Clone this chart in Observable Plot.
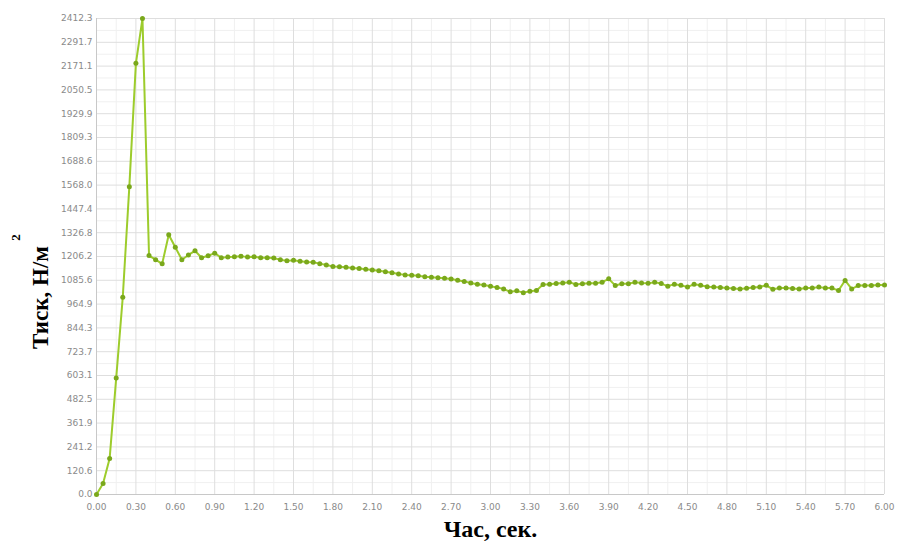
<!DOCTYPE html>
<html>
<head>
<meta charset="utf-8">
<script src="https://cdn.jsdelivr.net/npm/d3@7"></script>
<script src="https://cdn.jsdelivr.net/npm/@observablehq/plot@0.6"></script>
<style>
  html, body { margin: 0; padding: 0; background: #fff; }
  #chart { width: 898px; height: 542px; }
</style>
</head>
<body>
<div id="chart"></div>
<script>
// Time, s
const times = [
  0.00, 0.05, 0.10, 0.15, 0.20, 0.25, 0.30, 0.35, 0.40, 0.45,
  0.50, 0.55, 0.60, 0.65, 0.70, 0.75, 0.80, 0.85, 0.90, 0.95,
  1.00, 1.05, 1.10, 1.15, 1.20, 1.25, 1.30, 1.35, 1.40, 1.45,
  1.50, 1.55, 1.60, 1.65, 1.70, 1.75, 1.80, 1.85, 1.90, 1.95,
  2.00, 2.05, 2.10, 2.15, 2.20, 2.25, 2.30, 2.35, 2.40, 2.45,
  2.50, 2.55, 2.60, 2.65, 2.70, 2.75, 2.80, 2.85, 2.90, 2.95,
  3.00, 3.05, 3.10, 3.15, 3.20, 3.25, 3.30, 3.35, 3.40, 3.45,
  3.50, 3.55, 3.60, 3.65, 3.70, 3.75, 3.80, 3.85, 3.90, 3.95,
  4.00, 4.05, 4.10, 4.15, 4.20, 4.25, 4.30, 4.35, 4.40, 4.45,
  4.50, 4.55, 4.60, 4.65, 4.70, 4.75, 4.80, 4.85, 4.90, 4.95,
  5.00, 5.05, 5.10, 5.15, 5.20, 5.25, 5.30, 5.35, 5.40, 5.45,
  5.50, 5.55, 5.60, 5.65, 5.70, 5.75, 5.80, 5.85, 5.90, 5.95,
  6.00
];
// Pressure, N/m^2
const pressure = [
  0, 56, 182, 590, 1000, 1560, 2185, 2412, 1211, 1190,
  1169, 1316, 1253, 1190, 1214, 1235, 1200, 1210, 1223, 1200,
  1203, 1205, 1208, 1203, 1205, 1200, 1200, 1198, 1190, 1184,
  1187, 1182, 1178, 1177, 1170, 1163, 1156, 1154, 1152, 1148,
  1145, 1142, 1138, 1134, 1129, 1124, 1118, 1113, 1111, 1108,
  1104, 1101, 1098, 1096, 1092, 1086, 1080, 1072, 1066, 1062,
  1055, 1049, 1042, 1027, 1032, 1023, 1030, 1034, 1064, 1066,
  1069, 1072, 1076, 1064, 1068, 1070, 1071, 1076, 1093, 1059,
  1068, 1068, 1076, 1072, 1070, 1076, 1069, 1056, 1066, 1060,
  1051, 1066, 1060, 1053, 1051, 1049, 1046, 1044, 1042, 1045,
  1049, 1052, 1060, 1040, 1046, 1046, 1044, 1042, 1046, 1046,
  1051, 1046, 1046, 1034, 1085, 1042, 1059, 1059, 1059, 1062,
  1062
];

const xTicks = [0.00, 0.30, 0.60, 0.90, 1.20, 1.50, 1.80, 2.10, 2.40, 2.70, 3.00,
                3.30, 3.60, 3.90, 4.20, 4.50, 4.80, 5.10, 5.40, 5.70, 6.00];
const yTicks = [0.0, 120.6, 241.2, 361.9, 482.5, 603.1, 723.7, 844.3, 964.9, 1085.6,
                1206.2, 1326.8, 1447.4, 1568.0, 1688.6, 1809.3, 1929.9, 2050.5, 2171.1,
                2291.7, 2412.3];
const xTitle = "Час, сек.";
const yTitle = "Тиск, Н/м";
const ySup = "2";

const data = times.map((t, i) => ({t, p: pressure[i]}));
const xMinor = xTicks.slice(1).map((v, i) => (v + xTicks[i]) / 2);
const yMinor = yTicks.slice(1).map((v, i) => (v + yTicks[i]) / 2);

const chart = Plot.plot({
  width: 898,
  height: 542,
  marginLeft: 96,
  marginRight: 14,
  marginTop: 18,
  marginBottom: 48,
  style: {background: "#fff", fontFamily: "DejaVu Sans"},
  x: {domain: [0, 6], label: null},
  y: {domain: [0, 2412.3], label: null},
  marks: [
    Plot.gridX(xMinor, {stroke: "#f0f0f0", strokeOpacity: 1}),
    Plot.gridY(yMinor, {stroke: "#f0f0f0", strokeOpacity: 1}),
    Plot.gridX(xTicks, {stroke: "#dedede", strokeOpacity: 1}),
    Plot.gridY(yTicks, {stroke: "#dedede", strokeOpacity: 1}),
    Plot.axisX({ticks: xTicks, tickFormat: d3.format(".2f"), tickSize: 0, tickPadding: 9,
                fontSize: 9, fill: "#8a8a8a", label: null}),
    Plot.axisY({ticks: yTicks, tickFormat: d3.format(".1f"), tickSize: 0, tickPadding: 4,
                fontSize: 9, fill: "#8a8a8a", label: null}),
    Plot.ruleX([0], {stroke: "#c8c8c8"}),
    Plot.ruleY([0], {stroke: "#c8c8c8"}),
    Plot.line(data, {x: "t", y: "p", stroke: "#9dcc2c", strokeWidth: 2}),
    Plot.dot(data, {x: "t", y: "p", r: 2.5, fill: "#7aa81c", stroke: "none"}),
    Plot.text([xTitle], {frameAnchor: "bottom", textAnchor: "middle", lineAnchor: "middle",
                         dy: 35, fontSize: 24, fontWeight: "bold",
                         fontFamily: "Liberation Serif", fill: "#000"}),
    Plot.text([yTitle], {frameAnchor: "left", textAnchor: "middle", lineAnchor: "middle",
                         dx: -56, dy: 41, rotate: -90, fontSize: 23,
                         fontWeight: "bold", fontFamily: "Liberation Serif", fill: "#000"}),
    Plot.text([ySup], {frameAnchor: "left", textAnchor: "middle", lineAnchor: "middle",
                       dx: -81, dy: -19, rotate: -90, fontSize: 13,
                       fontWeight: "bold", fontFamily: "Liberation Serif", fill: "#000"})
  ]
});
document.getElementById("chart").appendChild(chart);
</script>
</body>
</html>
